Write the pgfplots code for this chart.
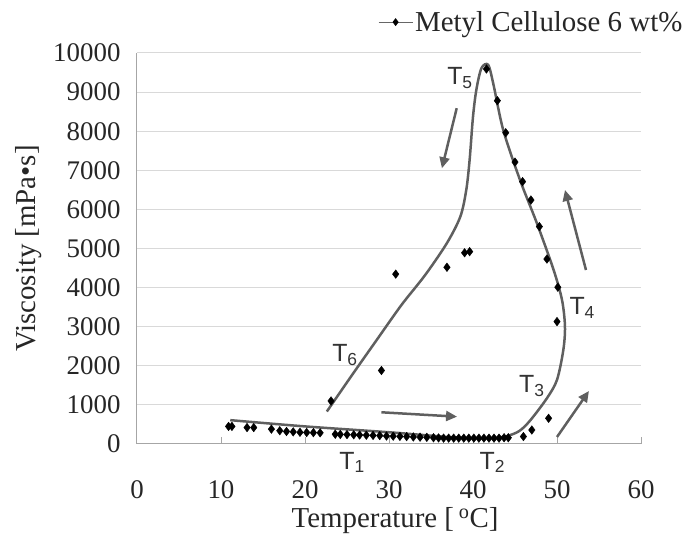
\documentclass[border=0pt]{standalone}
\usepackage{fontspec}
\setmainfont{Liberation Serif}
\setsansfont{Liberation Sans}
\usepackage{pgfplots}
\pgfplotsset{compat=1.18}
\usetikzlibrary{arrows.meta}
\definecolor{gridc}{HTML}{D9D9D9}
\definecolor{axc}{HTML}{A6A6A6}
\definecolor{curvec}{HTML}{5F5F5F}
\newcommand\tlab[1]{\sffamily\fontsize{25}{28}\selectfont T\textsubscript{#1}}
\begin{document}
\begin{tikzpicture}[x=1bp,y=1bp]
\useasboundingbox (-137,-92) rectangle (548,444);
\begin{axis}[at={(0,0)}, anchor=south west, scale only axis,
  width=504bp, height=391bp,
  xmin=0, xmax=60, ymin=0, ymax=10000,
  xtick={0,10,...,60}, ytick={0,1000,...,10000},
  axis x line=bottom, axis y line=left,
  axis line style={-, axc, line width=1bp},
  ymajorgrids, grid style={gridc, line width=1bp},
  major tick length=7bp, xtick style={axc, line width=1bp}, ytick style={draw=none},
  tick align=inside,
  /pgf/number format/assume math mode=true,
  scaled y ticks=false,
  yticklabel style={/pgf/number format/1000 sep={}, xshift=-13bp},
  tick label style={font=\rmfamily\fontsize{27}{30}\selectfont, text=black!85},
  xticklabel style={yshift=-33bp},
  xlabel={Temperature [\,\textsuperscript{o}C]},
  ylabel={Viscosity [mPa•s]},
  label style={font=\fontsize{29}{32}\selectfont, text=black!85},
  xlabel style={at={(axis description cs:0.512,-0.195)}, anchor=center},
  ylabel style={at={(axis description cs:-0.216,0.50)}, anchor=center, rotate=0},
  clip=false,
  legend style={at={(axis description cs:0.478,1.079)}, anchor=west, draw=none, fill=none,
    font=\fontsize{29}{32}\selectfont, text=black!85, inner sep=0pt},
  legend image code/.code={\draw[black!60, line width=1bp, mark=diamond*, mark size=3.2bp,
    mark options={black, solid}, mark repeat=2, mark phase=2, sharp plot]
    plot coordinates {(0bp,0bp)(17bp,0bp)(34bp,0bp)};},
]
% hand-drawn hysteresis curve
\addplot[curvec, line width=2.5bp, smooth, tension=0.5, no marks, forget plot] coordinates {
(11.1,610) (20,450) (30,300) (37,180) (40,155) (42.5,158) (44,200) (45.5,330)
(46.8,600) (48.8,1170) (50,1640) (50.75,2400) (50.95,3000) (50.6,3680) (49.6,4450)
(47.6,5650) (45.6,6750) (43.6,8030) (42.4,9230) (41.8,9700) (41.0,9610) (40.4,9060)
(40.0,8370) (39.6,7270) (39.2,6500) (38.5,5820) (36.9,5140) (34.3,4320) (31.5,3560)
(28.6,2680) (25.75,1810) (22.6,830)
};
% arrows
\addplot[curvec, line width=2.5bp, -{Triangle[length=11bp,width=10bp]}, forget plot] coordinates {(29.1,811) (38.1,699)};
\addplot[curvec, line width=2.5bp, -{Triangle[length=11bp,width=10bp]}, forget plot] coordinates {(50.0,179) (53.8,1355)};
\addplot[curvec, line width=2.5bp, -{Triangle[length=11bp,width=10bp]}, forget plot] coordinates {(53.45,4450) (50.95,6496)};
\addplot[curvec, line width=2.5bp, -{Triangle[length=11bp,width=10bp]}, forget plot] coordinates {(38.06,8587) (36.3,7052)};
% data
\addplot[only marks, mark=diamond*, mark size=4.3bp, mark options={fill=black, draw=black}] coordinates {
(10.9,450) (11.3,450) (13.1,420) (13.9,420) (16.0,380) (17.0,340) (17.8,320) (18.6,310)
(19.4,300) (20.2,295) (21.0,290) (21.8,285) (23.6,250) (24.2,245) (25.0,240) (25.8,235)
(26.5,230) (27.3,225) (28.1,220) (28.9,215) (29.7,205) (30.5,200) (31.3,195) (32.1,190)
(32.9,180) (33.7,175) (34.5,170) (35.3,160) (35.9,155) (36.5,150) (37.1,150) (37.7,150)
(38.3,150) (38.9,150) (39.5,150) (40.1,150) (40.7,150) (41.3,150) (41.9,150) (42.5,150)
(43.1,150) (43.7,160) (44.2,160) (46.0,190) (47.0,358) (49.0,657)
(50.0,3130) (50.1,4010) (48.8,4730) (47.9,5560) (46.9,6240) (45.9,6710) (45.0,7210)
(43.9,7960) (42.9,8780) (41.6,9590) (39.6,4920) (39.0,4890) (36.9,4520) (30.8,4345)
(29.1,1880) (23.1,1100)
};
\addlegendentry{Metyl Cellulose 6 wt\%}
\node[text=black!80, inner sep=0pt] at (axis cs:25.6,-470) {\tlab{1}};
\node[text=black!80, inner sep=0pt] at (axis cs:42.3,-470) {\tlab{2}};
\node[text=black!80, inner sep=0pt] at (axis cs:47.0,1483) {\tlab{3}};
\node[text=black!80, inner sep=0pt] at (axis cs:53.0,3478) {\tlab{4}};
\node[text=black!80, inner sep=0pt] at (axis cs:38.45,9360) {\tlab{5}};
\node[text=black!80, inner sep=0pt] at (axis cs:24.76,2276) {\tlab{6}};
\end{axis}
\end{tikzpicture}
\end{document}
